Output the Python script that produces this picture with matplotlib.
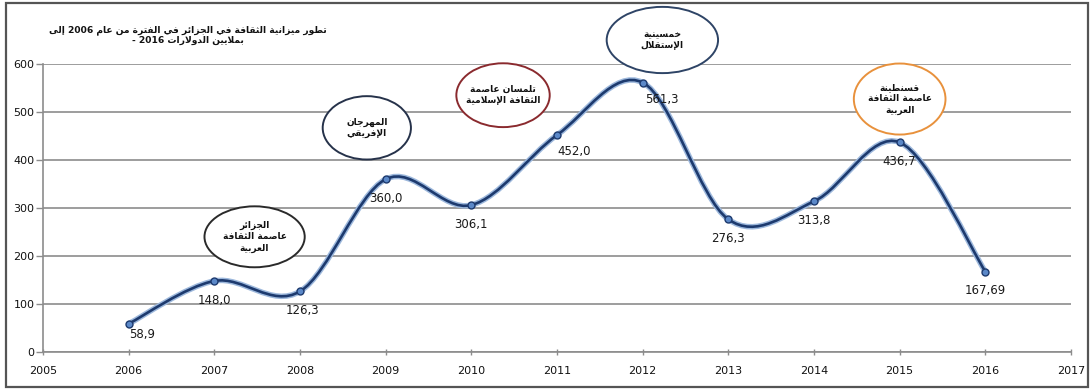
import re

import matplotlib
matplotlib.use("Agg")
import matplotlib.pyplot as plt
from matplotlib.patches import Ellipse, PathPatch, Rectangle
from matplotlib.path import Path
import numpy as np

# budget of the culture ministry, millions of dollars
years = [2006, 2007, 2008, 2009, 2010, 2011, 2012, 2013, 2014, 2015, 2016]
budget = [58.9, 148.0, 126.3, 360.0, 306.1, 452.0, 561.3, 276.3, 313.8, 436.7, 167.69]

title_lines = [
    "تطور ميزانية الثقافة في الجزائر في الفترة من عام 2006 إلى",
    "بملايين الدولارات 2016 -",
]

# cultural events written in the bubbles
events = [
    "الجزائر\nعاصمة الثقافة\nالعربية",
    "المهرجان\nالإفريقي",
    "تلمسان عاصمة\nالثقافة الإسلامية",
    "خمسينية\nالإستقلال",
    "قسنطينة\nعاصمة الثقافة\nالعربية",
]


# --- minimal arabic shaping (matplotlib has no text shaping / bidi) ---
_letters = [("ء", 1), ("آ", 2), ("أ", 2), ("ؤ", 2), ("إ", 2), ("ئ", 4), ("ا", 2),
            ("ب", 4), ("ة", 2), ("ت", 4), ("ث", 4), ("ج", 4), ("ح", 4), ("خ", 4),
            ("د", 2), ("ذ", 2), ("ر", 2), ("ز", 2), ("س", 4), ("ش", 4), ("ص", 4),
            ("ض", 4), ("ط", 4), ("ظ", 4), ("ع", 4), ("غ", 4), ("ف", 4), ("ق", 4),
            ("ك", 4), ("ل", 4), ("م", 4), ("ن", 4), ("ه", 4), ("و", 2), ("ى", 2),
            ("ي", 4)]
FORMS = {}
_code = 0xFE80
for _ch, _n in _letters:
    FORMS[_ch] = [chr(_code + k) for k in range(_n)]
    _code += _n
LAM_ALEF = {"آ": 0xFEF5, "أ": 0xFEF7, "إ": 0xFEF9, "ا": 0xFEFB}


def shape(s):
    out = []
    i = 0
    prev_joins = False
    while i < len(s):
        ch = s[i]
        if ch not in FORMS:
            out.append(ch)
            prev_joins = False
            i += 1
            continue
        nxt = s[i + 1] if i + 1 < len(s) else ""
        if ch == "ل" and nxt in LAM_ALEF:
            out.append(chr(LAM_ALEF[nxt] + (1 if prev_joins else 0)))
            prev_joins = False
            i += 2
            continue
        forms = FORMS[ch]
        joins_next = len(forms) == 4 and nxt in FORMS and len(FORMS[nxt]) > 1
        if len(forms) == 1:
            idx = 0
        elif prev_joins and joins_next:
            idx = 3
        elif prev_joins:
            idx = 1
        elif joins_next:
            idx = 2
        else:
            idx = 0
        out.append(forms[idx])
        prev_joins = joins_next
        i += 1
    return "".join(out)


def rtl(text):
    lines = []
    for line in text.split("\n"):
        runs = re.findall(r"[0-9A-Za-z.,]+|[^0-9A-Za-z.,]+", shape(line))
        vis = [r if re.match(r"[0-9A-Za-z]", r) else r[::-1] for r in reversed(runs)]
        lines.append("".join(vis).strip())
    return "\n".join(lines)


def smooth_path(xs, ys):
    # catmull-rom style bezier, like a spreadsheet "smoothed line"
    p = np.column_stack([xs, ys]).astype(float)
    verts = [p[0]]
    codes = [Path.MOVETO]
    n = len(p)
    for i in range(n - 1):
        p0 = p[i - 1] if i > 0 else p[i]
        p3 = p[i + 2] if i + 2 < n else p[i + 1]
        c1 = p[i] + (p[i + 1] - p0) / 6
        c2 = p[i + 1] - (p3 - p[i]) / 6
        verts += [c1, c2, p[i + 1]]
        codes += [Path.CURVE4] * 3
    return Path(verts, codes)


W, H = 1092, 389
fig = plt.figure(figsize=(W / 100, H / 100), dpi=100)
fig.patch.set_facecolor("white")
ax = fig.add_axes([43 / W, 1 - 352 / H, (1071 - 43) / W, (352 - 64) / H])

ax.set_xlim(2005, 2017)
ax.set_ylim(0, 600)
ax.set_xticks(range(2005, 2018))
ax.set_yticks(range(0, 601, 100))
ax.grid(axis="y", color="#8c8c8c", lw=1.2)
ax.set_axisbelow(True)
for s in ["top", "right"]:
    ax.spines[s].set_visible(False)
for s in ["left", "bottom"]:
    ax.spines[s].set_color("#8c8c8c")
    ax.spines[s].set_linewidth(1.2)
ax.tick_params(axis="y", direction="out", length=5, width=1, color="#8c8c8c",
               labelsize=8, pad=1, labelcolor="#111111")
ax.tick_params(axis="x", direction="inout", length=4, width=1, color="#8c8c8c",
               labelsize=8, pad=8, labelcolor="#111111")

# budget curve: pale halo under a dark navy stroke
path = smooth_path(years, budget)
ax.add_patch(PathPatch(path, fill=False, ec="#9db8dc", lw=4.0, capstyle="round", zorder=3))
ax.add_patch(PathPatch(path, fill=False, ec="#1d3a6e", lw=1.9, capstyle="round", zorder=4))
ax.plot(years, budget, "o", ms=5, mfc="#5b88c8", mec="#1d3a6e", mew=1.0, zorder=9)

label_dx = [10, 0, 2, 0, 0, 12, 14, 0, 0, 0, 0]
label_dy = [-8, -14, -14, -14, -14, -12, -12, -14, -14, -14, -14]
for x, v, dx, dy in zip(years, budget, label_dx, label_dy):
    ax.annotate(str(v).replace(".", ","), (x, v), xytext=(dx, dy),
                textcoords="offset points", ha="center", va="center",
                fontsize=8.5, color="#1a1a1a", zorder=6)

# event bubbles (centre in data units, size in data units)
bubble_layout = [
    ((2007.47, 240), 1.17, 127, "#2a2a2a"),
    ((2008.78, 467), 1.03, 132, "#26324a"),
    ((2010.37, 535), 1.09, 133, "#8a2a2e"),
    ((2012.23, 650), 1.30, 138, "#2e4466"),
    ((2015.0, 527), 1.07, 148, "#e8913c"),
]
for text, (xy, w, h, col) in zip(events, bubble_layout):
    ax.add_patch(Ellipse(xy, w, h, fill=True, fc="white", ec=col, lw=1.4,
                         clip_on=False, zorder=7))
    ax.text(xy[0], xy[1], rtl(text), ha="center", va="center", fontsize=6.5,
            fontweight="bold", linespacing=1.3, color="#111111", zorder=8,
            clip_on=False)

fig.text(188 / W, 1 - 35 / H, rtl("\n".join(title_lines)), ha="center",
         va="center", fontsize=6.6, fontweight="bold", linespacing=1.2,
         color="#111111")

fig.patches.append(Rectangle((6 / W, 2 / H), (1088 - 6) / W, (386 - 2) / H,
                             transform=fig.transFigure, fill=False,
                             ec="#555555", lw=1.6))

fig.savefig("out.png", dpi=100)
